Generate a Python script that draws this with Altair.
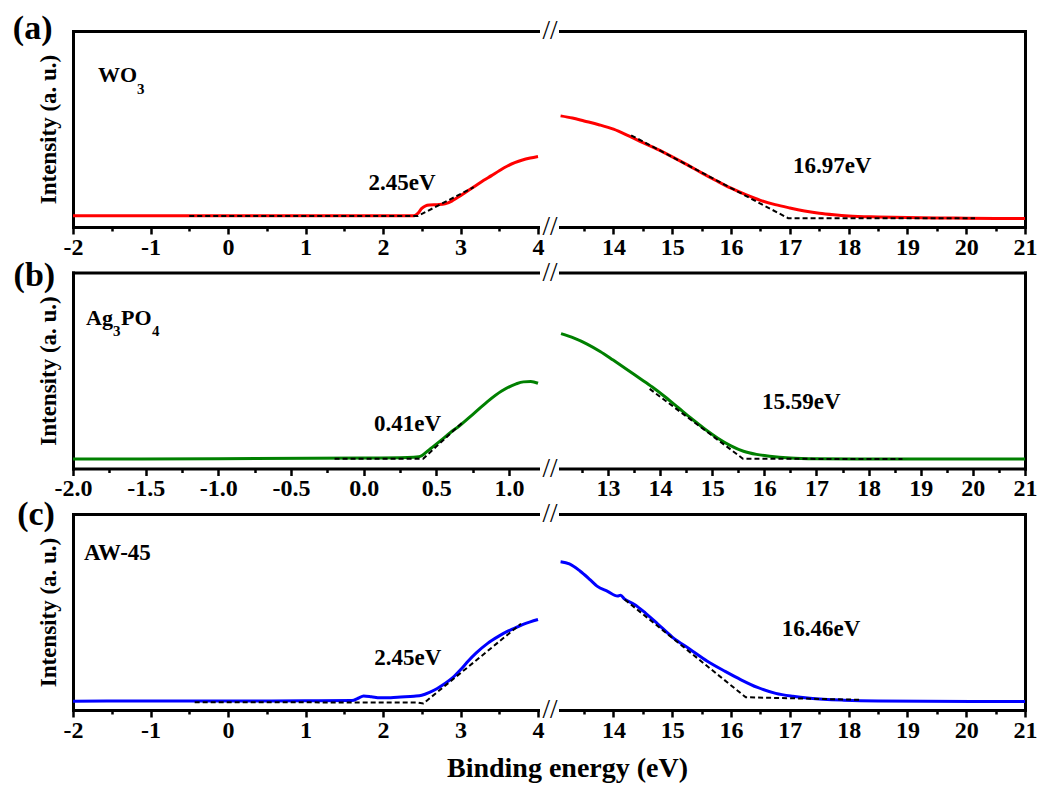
import altair as alt
import pandas as pd

FONT = "Liberation Serif"
LW = 3

# ---------------- data ----------------
# (a) WO3
a_left_x = [-2, -1, 0, 1, 2, 2.4, 2.45, 2.5, 2.55, 2.6, 2.7, 2.8, 2.9, 3.0, 3.1, 3.2, 3.3, 3.4, 3.5, 3.6, 3.7, 3.8, 3.9, 4.0]
a_left_y = [0.057, 0.057, 0.057, 0.058, 0.058, 0.058, 0.07, 0.095, 0.108, 0.112, 0.114, 0.118, 0.135, 0.16, 0.186, 0.212, 0.238, 0.262, 0.287, 0.31, 0.328, 0.342, 0.352, 0.36]
a_fitL_x = [-0.5, 2.45, 3.17]
a_fitL_y = [0.056, 0.056, 0.203]
a_right_x = [13.1, 13.3, 13.5, 13.75, 14.0, 14.25, 14.5, 14.75, 15.0, 15.25, 15.5, 15.75, 16.0, 16.25, 16.5, 16.75, 17.0, 17.25, 17.5, 17.75, 18.0, 18.5, 19.0, 19.5, 20.0, 21.0]
a_right_y = [0.567, 0.556, 0.541, 0.522, 0.499, 0.466, 0.43, 0.396, 0.358, 0.318, 0.276, 0.236, 0.198, 0.165, 0.136, 0.114, 0.097, 0.082, 0.07, 0.062, 0.056, 0.051, 0.048, 0.046, 0.045, 0.043]
a_fitR_x = [14.3, 16.97, 20.15]
a_fitR_y = [0.468, 0.045, 0.045]

# (b) Ag3PO4
b_left_x = [-2.0, -1.0, 0.0, 0.3, 0.38, 0.45, 0.53, 0.6, 0.66, 0.75, 0.85, 0.95, 1.05, 1.1, 1.15, 1.2]
b_left_y = [0.048, 0.05, 0.053, 0.056, 0.06, 0.095, 0.142, 0.185, 0.218, 0.275, 0.34, 0.395, 0.432, 0.442, 0.444, 0.435]
b_fitL_x = [-0.2, 0.41, 0.68]
b_fitL_y = [0.05, 0.05, 0.235]
b_right_x = [12.1, 12.35, 12.6, 12.85, 13.1, 13.35, 13.6, 13.85, 14.1, 14.35, 14.6, 14.85, 15.1, 15.35, 15.6, 15.85, 16.1, 16.5, 17.0, 18.0, 21.0]
b_right_y = [0.688, 0.665, 0.635, 0.597, 0.553, 0.508, 0.462, 0.416, 0.365, 0.31, 0.255, 0.203, 0.156, 0.117, 0.088, 0.072, 0.063, 0.054, 0.05, 0.048, 0.048]
b_fitR_x = [13.8, 15.59, 18.65]
b_fitR_y = [0.406, 0.05, 0.048]

# (c) AW-45
c_left_x = [-2, -1, 0, 1, 1.6, 1.68, 1.75, 1.85, 1.96, 2.1, 2.23, 2.4, 2.5, 2.6, 2.7, 2.8, 2.9, 3.0, 3.1, 3.2, 3.35, 3.5, 3.61, 3.7, 3.8, 3.9, 4.0]
c_left_y = [0.045, 0.046, 0.046, 0.047, 0.048, 0.06, 0.072, 0.068, 0.062, 0.063, 0.066, 0.07, 0.075, 0.09, 0.11, 0.135, 0.165, 0.205, 0.25, 0.29, 0.34, 0.378, 0.402, 0.418, 0.436, 0.45, 0.462]
c_fitL_x = [-0.43, 2.45, 2.52, 3.78]
c_fitL_y = [0.04, 0.038, 0.033, 0.44]
c_right_x = [13.1, 13.25, 13.43, 13.6, 13.72, 13.9, 14.07, 14.12, 14.19, 14.35, 14.54, 14.75, 15.0, 15.3, 15.59, 15.9, 16.17, 16.45, 16.76, 17.05, 17.34, 17.92, 18.5, 21.0]
c_right_y = [0.756, 0.745, 0.709, 0.665, 0.632, 0.605, 0.581, 0.585, 0.566, 0.54, 0.496, 0.44, 0.372, 0.31, 0.25, 0.197, 0.154, 0.115, 0.085, 0.07, 0.06, 0.05, 0.046, 0.043]
c_fitR_x = [14.19, 16.25, 18.2]
c_fitR_y = [0.564, 0.065, 0.052]

# axis ticks
ac_left_major = [-2, -1, 0, 1, 2, 3, 4]
ac_left_minor = [-1.5, -0.5, 0.5, 1.5, 2.5, 3.5]
ac_right_major = [14, 15, 16, 17, 18, 19, 20, 21]
ac_right_minor = [13.5, 14.5, 15.5, 16.5, 17.5, 18.5, 19.5, 20.5]
b_left_major = [-2.0, -1.5, -1.0, -0.5, 0.0, 0.5, 1.0]
b_left_minor = [-1.75, -1.25, -0.75, -0.25, 0.25, 0.75]
b_right_major = [13, 14, 15, 16, 17, 18, 19, 20, 21]
b_right_minor = [12.5, 13.5, 14.5, 15.5, 16.5, 17.5, 18.5, 19.5, 20.5]

# annotations
ann_texts = ["2.45eV", "16.97eV", "0.41eV", "15.59eV", "2.45eV", "16.46eV"]
ann_x = [2.245, 17.72, 0.303, 16.71, 2.32, 17.53]
ann_y = [0.223, 0.311, 0.226, 0.34, 0.267, 0.415]

panel_labels = ["(a)", "(b)", "(c)"]
panel_label_x = [-2.52, -2.266, -2.477]
panel_label_y = [1.01, 0.981, 0.995]

sample_x = [-1.677, -1.91, -1.858]
sample_y = [0.777, 0.769, 0.803]

# ---------------- helpers ----------------
Y_SCALE = alt.Scale(domain=[0, 1], nice=False, zero=False)


def xscale(dom):
    return alt.Scale(domain=dom, nice=False, zero=False)


def main_axis(values, fmt, xtitle=False):
    kw = dict(
        orient="bottom", values=values, tickSize=7, tickWidth=2.5, tickColor="black",
        domain=True, domainColor="black", domainWidth=LW, domainCap="square",
        labelFont=FONT, labelFontWeight="bold", labelFontSize=24, labelColor="black",
        labelPadding=1, labelFlush=False, labelOverlap=False, grid=False,
        labelExpr="replace(format(datum.value, '%s'), '\u2212', '-')" % fmt,
    )
    if xtitle:
        kw.update(title="Binding energy (eV)", titleFont=FONT, titleFontWeight="bold",
                  titleFontSize=28, titleColor="black", titleX=7, titleY=66,
                  titleAlign="center", titleBaseline="alphabetic")
    else:
        kw["title"] = None
    return alt.Axis(**kw)


def minor_axis(values):
    return alt.Axis(orient="bottom", values=values, tickSize=4, tickWidth=2.5, tickColor="black",
                    domain=False, labels=False, grid=False, title=None)


TOP_AXIS = alt.Axis(orient="top", domain=True, domainColor="black", domainWidth=LW,
                    domainCap="square", ticks=False, labels=False, grid=False, title=None)


def y_axis(side):
    if side == "left":
        return alt.Axis(orient="left", domain=True, domainColor="black", domainWidth=LW,
                        domainCap="square", ticks=False, labels=False, grid=False,
                        title="Intensity (a. u.)", titleFont=FONT, titleFontWeight="bold",
                        titleFontSize=23, titleColor="black", titlePadding=13)
    return alt.Axis(orient="right", domain=True, domainColor="black", domainWidth=LW,
                    domainCap="square", ticks=False, labels=False, grid=False, title=None)


def panel(side, lx, ly, fx, fy, color, dom, major, minor, fmt, k, row,
          parts=None, xtitle=False):
    sx = xscale(dom)
    solid = alt.Chart(pd.DataFrame({"x": lx, "y": ly})).mark_line(
        color=color, strokeWidth=3, interpolate="monotone").encode(
        x=alt.X("x:Q", scale=sx, axis=main_axis(major, fmt, xtitle)),
        y=alt.Y("y:Q", scale=Y_SCALE, axis=y_axis(side)))
    dashed = alt.Chart(pd.DataFrame({"x": fx, "y": fy})).mark_line(
        color="black", strokeWidth=2, strokeDash=[5, 3]).encode(
        x=alt.X("x:Q", scale=sx, axis=TOP_AXIS),
        y=alt.Y("y:Q", scale=Y_SCALE, axis=None))
    ann = alt.Chart(pd.DataFrame({"x": [ann_x[k]], "y": [ann_y[k]], "t": [ann_texts[k]]})).mark_text(
        font=FONT, fontWeight="bold", fontSize=23, align="center", baseline="middle",
        color="black").encode(
        x=alt.X("x:Q", scale=sx, axis=minor_axis(minor)),
        y=alt.Y("y:Q", scale=Y_SCALE, axis=None), text="t:N")
    layers = [solid, dashed, ann]
    if side == "left":
        brk = alt.Chart(pd.DataFrame({"x": [dom[1], dom[1]], "y": [0, 1], "t": ["//", "//"]})).mark_text(
            font=FONT, fontSize=27, align="center", baseline="middle", dx=12,
            color="black").encode(
            x=alt.X("x:Q", scale=sx, axis=None),
            y=alt.Y("y:Q", scale=Y_SCALE, axis=None), text="t:N")
        pl = alt.Chart(pd.DataFrame({"x": [panel_label_x[row]], "y": [panel_label_y[row]],
                                     "t": [panel_labels[row]]})).mark_text(
            font=FONT, fontWeight="bold", fontSize=34, align="center", baseline="middle",
            color="black").encode(
            x=alt.X("x:Q", scale=sx, axis=None),
            y=alt.Y("y:Q", scale=Y_SCALE, axis=None), text="t:N")
        layers += [brk, pl]
        for (txt, ddx, ddy, size) in parts:
            layers.append(
                alt.Chart(pd.DataFrame({"x": [sample_x[row]], "y": [sample_y[row]], "t": [txt]})).mark_text(
                    font=FONT, fontWeight="bold", fontSize=size, align="left", baseline="middle",
                    dx=ddx, dy=ddy, color="black").encode(
                    x=alt.X("x:Q", scale=sx, axis=None),
                    y=alt.Y("y:Q", scale=Y_SCALE, axis=None), text="t:N"))
    return (alt.layer(*layers)
            .resolve_axis(x="independent", y="independent")
            .properties(width=465, height=196))


aL = panel("left", a_left_x, a_left_y, a_fitL_x, a_fitL_y, "#ff0000", [-2, 4],
           ac_left_major, ac_left_minor, "d", 0, 0,
           parts=[("WO", 0, 0, 22), ("3", 39, 14, 15)])
aR = panel("right", a_right_x, a_right_y, a_fitR_x, a_fitR_y, "#ff0000", [13.09, 21],
           ac_right_major, ac_right_minor, "d", 1, 0)
bL = panel("left", b_left_x, b_left_y, b_fitL_x, b_fitL_y, "#008000", [-2, 1.2],
           b_left_major, b_left_minor, ".1f", 2, 1,
           parts=[("Ag", 0, 0, 22), ("3", 27, 13, 15), ("PO", 35, 0, 22), ("4", 66, 13, 15)])
bR = panel("right", b_right_x, b_right_y, b_fitR_x, b_fitR_y, "#008000", [12.08, 21],
           b_right_major, b_right_minor, "d", 3, 1)
cL = panel("left", c_left_x, c_left_y, c_fitL_x, c_fitL_y, "#0000ff", [-2, 4],
           ac_left_major, ac_left_minor, "d", 4, 2,
           parts=[("AW-45", 0, 0, 23)])
cR = panel("right", c_right_x, c_right_y, c_fitR_x, c_fitR_y, "#0000ff", [13.09, 21],
           ac_right_major, ac_right_minor, "d", 5, 2, xtitle=True)

chart = alt.concat(
    aL, aR, bL, bR, cL, cR, columns=2,
    spacing={"row": 45.5, "column": 22}, bounds="flush",
    padding={"left": 12, "top": 12, "right": 0, "bottom": 12},
).configure_view(stroke=None)

chart.save("out.html", embed_options={"renderer": "svg", "actions": False})
